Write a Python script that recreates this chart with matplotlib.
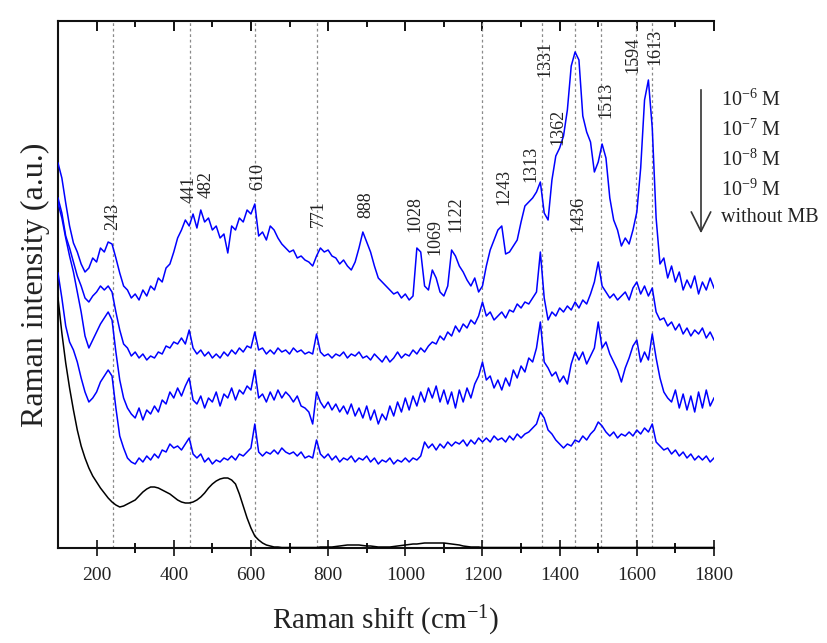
import numpy as np
import matplotlib
matplotlib.use("Agg")
import matplotlib.pyplot as plt
from matplotlib.patches import FancyArrowPatch

plt.rcParams['font.family'] = ['Liberation Serif', 'DejaVu Serif']
plt.rcParams['mathtext.fontset'] = 'custom'
plt.rcParams['mathtext.rm'] = 'Liberation Serif'
plt.rcParams['mathtext.it'] = 'Liberation Serif:italic'
plt.rcParams['mathtext.bf'] = 'Liberation Serif:bold'

# ---------------- data ----------------
shift = np.arange(100, 1801, 10)  # Raman shift (cm-1)

mb_1e6 = [385,370,345,322,305,296,284,276,280,290,
          286,300,296,306,304,290,275,262,258,250,
          254,248,258,252,262,258,270,266,280,284,
          296,310,318,328,322,334,320,338,326,330,
          318,322,310,314,295,322,318,330,326,338,
          334,344,312,316,308,322,318,310,304,300,
          296,298,290,292,288,286,282,292,300,296,
          298,292,290,284,288,282,278,286,300,316,
          306,296,282,270,266,262,258,254,256,250,
          254,248,252,300,296,262,258,278,270,256,
          252,262,298,292,282,276,268,262,270,256,
          262,282,298,308,318,322,294,296,302,308,
          326,342,346,350,356,366,335,328,368,392,
          400,412,438,482,496,488,432,416,406,376,
          386,404,390,350,328,318,302,310,304,318,
          336,380,448,468,420,330,284,290,270,282,
          266,276,258,268,260,272,254,266,258,270,
          260]

mb_1e7 = [350,335,312,300,286,272,262,250,246,252,
          256,262,258,262,256,236,218,204,200,192,
          196,190,194,188,192,190,196,194,202,200,
          206,204,210,204,218,200,194,198,192,196,
          190,194,190,196,192,198,194,200,196,202,
          200,216,198,200,194,198,194,200,196,198,
          194,200,196,198,194,196,194,214,196,192,
          194,190,194,192,196,190,194,192,196,190,
          192,188,194,190,186,192,186,190,196,190,
          194,192,198,194,200,196,202,206,204,212,
          208,216,212,222,216,224,220,228,224,232,
          246,232,236,228,232,236,230,238,236,244,
          240,246,244,250,256,296,250,228,236,232,
          240,236,242,238,246,240,248,244,254,266,
          286,262,256,250,254,248,252,256,248,260,
          266,254,262,252,260,236,228,230,222,226,
          218,224,214,220,212,218,214,220,210,216,
          208]

mb_1e8 = [345,330,310,292,276,256,236,212,200,208,
          216,224,230,236,228,196,168,150,140,134,
          130,140,128,138,134,142,136,148,144,156,
          150,160,152,162,170,148,144,152,140,150,
          146,156,142,154,150,160,148,158,154,162,
          158,178,150,154,146,156,148,158,150,156,
          152,146,152,142,140,136,124,156,146,140,
          146,138,144,136,142,134,144,132,140,130,
          142,128,138,124,134,128,142,132,146,136,
          150,138,152,142,156,146,160,150,162,146,
          158,144,156,140,158,146,160,150,164,172,
          186,168,172,160,168,158,170,162,178,170,
          182,176,190,186,200,226,186,180,172,176,
          166,172,164,184,196,188,196,184,192,200,
          226,200,206,194,186,178,166,180,190,202,
          208,186,196,188,214,190,170,156,150,146,
          158,140,154,138,152,136,156,140,158,142,
          150]

mb_1e9 = [275,250,222,206,198,186,170,156,146,150,
          156,166,172,178,172,140,112,100,90,86,
          84,90,86,92,88,94,90,98,96,104,
          100,102,98,104,110,94,90,94,86,90,
          84,88,86,90,88,92,88,94,92,96,
          100,124,96,92,96,94,98,94,100,96,
          94,96,92,96,90,92,90,108,94,90,
          94,88,92,86,90,88,92,86,90,88,
          92,86,90,84,88,86,90,84,88,86,
          90,86,90,88,92,106,100,104,98,104,
          100,106,102,106,104,108,102,108,104,110,
          106,110,106,112,108,110,106,112,108,114,
          110,114,116,120,124,136,130,118,114,108,
          104,100,104,102,108,106,112,108,114,118,
          126,122,116,112,116,110,114,112,116,112,
          118,114,120,116,124,106,102,98,100,94,
          98,92,96,90,94,88,92,88,92,86,
          90]

no_mb = [250,215,185,160,138,118,102,90,80,72,
         66,60,55,50,46,43,41,42,44,46,
         48,52,56,59,61,61,60,58,56,54,
         51,48,46,45,45,46,48,51,55,60,
         64,67,69,70,70,68,64,54,42,30,
         20,12,8,5,3,2,1,1,0.5,0.5,
         0.5,0.5,0.5,0.5,0.5,0.5,0.5,0.5,1,1,
         1,1,1.5,2,2.5,3,3,3,3,2.5,
         2,2,1.5,1,1,1,1,1.5,2,2.5,
         3,3.5,4,4,4.5,5,5,5,5,5,
         5,4.5,4,3.5,3,2,1.5,1,1,1,
         0.5,0.5,0.5,0.5,0.5,0.5,0.5,0.5,0.5,0.5,
         0.5,0.5,0.5,0.5,0.5,0.5,0.5,0.5,0.5,0.5,
         0.5,0.5,0.5,0.5,0.5,0.5,0.5,0.5,0.5,0.5,
         0.5,0.5,0.5,0.5,0.5,0.5,0.5,0.5,0.5,0.5,
         0.5,0.5,0.5,0.5,0.5,0.5,0.5,0.5,0.5,0.5,
         0.5,0.5,0.5,0.5,0.5,0.5,0.5,0.5,0.5,0.5,
         0.5]

ref_lines = [243, 441, 610, 771, 1200, 1353, 1441, 1507, 1598, 1640]

peak_labels = ['243', '441', '482', '610', '771', '888', '1028', '1069', '1122',
               '1243', '1313', '1331', '1362', '1436', '1513', '1594', '1613']
peak_label_x = [242, 439, 483, 618, 776, 898, 1025, 1077, 1131,
                1256, 1326, 1362, 1395, 1447, 1520, 1590, 1647]
peak_label_y = [318, 345, 350, 358, 321, 330, 316, 293, 316,
                343, 366, 471, 403, 316, 430, 475, 483]

legend_labels = ['10$^{-6}$ M', '10$^{-7}$ M', '10$^{-8}$ M', '10$^{-9}$ M', 'without MB']
xtick_major = list(range(200, 1801, 200))
xtick_minor = list(range(300, 1800, 200))

# ---------------- figure ----------------
W, H = 827, 643
fig = plt.figure(figsize=(W / 100, H / 100), dpi=100)
ax = fig.add_axes([58 / W, 95 / H, 656 / W, 527 / H])

for xv in ref_lines:
    ax.axvline(xv, color='#8a8a8a', lw=0.9, ls=(0, (2.2, 2.2)), zorder=1)

blue = '#0000ff'
for ys in (mb_1e6, mb_1e7, mb_1e8, mb_1e9):
    ax.plot(shift, ys, color=blue, lw=1.1, zorder=3)
ax.plot(shift, no_mb, color='black', lw=1.1, zorder=3)

for txt, xv, yv in zip(peak_labels, peak_label_x, peak_label_y):
    ax.text(xv, yv, txt, rotation=90, ha='center', va='bottom', fontsize=13,
            color='#222222', zorder=4)

ax.set_xlim(100, 1800)
ax.set_ylim(0, 527)
ax.set_yticks([])
ax.set_xticks(xtick_major)
ax.set_xticks(xtick_minor, minor=True)
ax.tick_params(axis='x', which='major', direction='inout', length=12, width=1.3,
               labelsize=14, pad=8, colors='#222222')
ax.tick_params(axis='x', which='minor', direction='inout', length=6.5, width=1.3)

ax.spines['right'].set_visible(False)
ax.spines['top'].set_visible(False)
for s in ('left', 'bottom'):
    ax.spines[s].set_linewidth(1.5)
    ax.spines[s].set_color('#111111')

sec = ax.secondary_xaxis('top')
sec.set_xticks(xtick_major)
sec.set_xticks(xtick_minor, minor=True)
sec.tick_params(which='major', direction='in', length=7.5, width=1.3, labeltop=False)
sec.tick_params(which='minor', direction='in', length=4, width=1.3)
sec.spines['top'].set_linewidth(1.5)
sec.spines['top'].set_color('#111111')

ax.set_xlabel('Raman shift (cm$^{-1}$)', fontsize=21, labelpad=14, color='#222222')
ax.set_ylabel('Raman intensity (a.u.)', fontsize=23, labelpad=6, color='#222222')

# legend (text list with arrow)
rows_y = [100, 130, 160, 190, 218]
for lab, yp in zip(legend_labels, rows_y):
    fig.text(721 / W, 1 - yp / H, lab, ha='left', va='center', fontsize=14.5,
             color='#222222')
arr = FancyArrowPatch((701 / W, 1 - 87 / H), (701 / W, 1 - 236 / H),
                      transform=fig.transFigure, arrowstyle='->,head_length=0.7,head_width=0.35',
                      mutation_scale=20, color='#333333', lw=1.2)
fig.add_artist(arr)

fig.savefig('out.png', dpi=100)
